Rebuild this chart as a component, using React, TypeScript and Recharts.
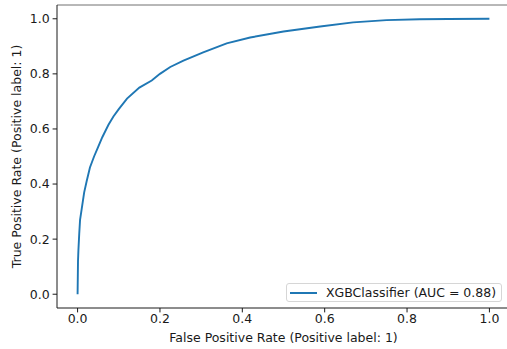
import React from "react";
import { LineChart, Line, XAxis, YAxis, ReferenceLine, Legend, Label } from "recharts";

// ROC points
const fpr = [
  0, 0.001, 0.002, 0.004, 0.006, 0.01, 0.013, 0.016, 0.022, 0.03, 0.04, 0.05,
  0.06, 0.075, 0.087, 0.1, 0.12, 0.15, 0.18, 0.2, 0.225, 0.257, 0.305, 0.362,
  0.419, 0.5, 0.589, 0.669, 0.75, 0.831, 0.9, 1.0,
];
const tpr = [
  0, 0.12, 0.16, 0.22, 0.27, 0.31, 0.34, 0.37, 0.41, 0.46, 0.5, 0.535, 0.57,
  0.615, 0.645, 0.672, 0.71, 0.75, 0.776, 0.8, 0.825, 0.848, 0.878, 0.911,
  0.932, 0.954, 0.972, 0.987, 0.995, 0.998, 0.999, 1.0,
];
const ticks = [0, 0.2, 0.4, 0.6, 0.8, 1.0];
const seriesName = "XGBClassifier (AUC = 0.88)";
const xTitle = "False Positive Rate (Positive label: 1)";
const yTitle = "True Positive Rate (Positive label: 1)";

const rocData = fpr.map((x, i) => ({ fpr: x, tpr: tpr[i] }));

const BLUE = "#1f77b4";
const INK = "#1a1a1a";
const FS = 12.5;

function LegendBox() {
  return (
    <div
      style={{
        display: "flex",
        alignItems: "center",
        border: "1px solid #d6d6d6",
        borderRadius: 3,
        background: "rgba(255,255,255,0.8)",
        width: 214,
        height: 17,
        fontSize: FS,
        color: INK,
      }}
    >
      <div style={{ width: 27, height: 2, background: BLUE, marginLeft: 3, marginRight: 9 }} />
      <span style={{ whiteSpace: "nowrap" }}>{seriesName}</span>
    </div>
  );
}

export default function App() {
  return (
    <div style={{ position: "absolute", left: 0, top: 0, fontFamily: "DejaVu Sans", background: "#fff" }}>
      <LineChart
        width={520}
        height={349}
        data={rocData}
        margin={{ top: 5, right: 10, left: 0, bottom: 0 }}
      >
        <XAxis
          type="number"
          dataKey="fpr"
          domain={[-0.05, 1.05]}
          ticks={ticks}
          allowDataOverflow
          tickFormatter={(v: number) => v.toFixed(1)}
          height={41}
          tickSize={4.4}
          tickMargin={2}
          stroke={INK}
          tick={{ fill: INK, fontSize: FS }}
        >
          <Label
            content={({ viewBox }: any) => (
              <text
                x={viewBox.x + viewBox.width / 2}
                y={337}
                textAnchor="middle"
                dominantBaseline="central"
                fontSize={FS}
                fill={INK}
              >
                {xTitle}
              </text>
            )}
          />
        </XAxis>
        <YAxis
          type="number"
          domain={[-0.05, 1.05]}
          ticks={ticks}
          allowDataOverflow
          tickFormatter={(v: number) => v.toFixed(1)}
          width={57}
          tickSize={4.4}
          tickMargin={3}
          stroke={INK}
          tick={{ fill: INK, fontSize: FS }}
        >
          <Label
            content={({ viewBox }: any) => {
              const cy = viewBox.y + viewBox.height / 2;
              return (
                <text
                  x={16}
                  y={cy}
                  transform={`rotate(-90 16 ${cy})`}
                  textAnchor="middle"
                  dominantBaseline="central"
                  fontSize={FS}
                  fill={INK}
                >
                  {yTitle}
                </text>
              );
            }}
          />
        </YAxis>
        <ReferenceLine y={1.05} stroke="#707070" strokeWidth={1} />
        <ReferenceLine x={1.05} stroke={INK} strokeWidth={1} />
        <Legend
          layout="vertical"
          verticalAlign="middle"
          align="center"
          content={() => <LegendBox />}
          wrapperStyle={{ position: "absolute", left: 286, top: 283, width: "auto" }}
        />
        <Line
          type="linear"
          dataKey="tpr"
          name={seriesName}
          stroke={BLUE}
          strokeWidth={1.9}
          dot={false}
          isAnimationActive={false}
        />
      </LineChart>
    </div>
  );
}
